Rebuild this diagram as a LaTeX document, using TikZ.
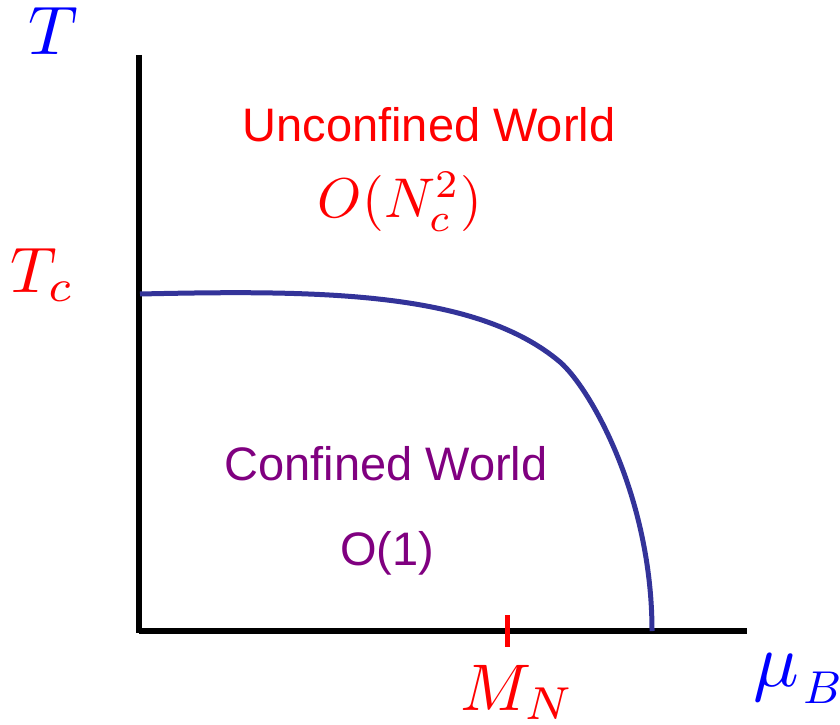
\RequirePackage{fix-cm}
\documentclass[tikz,border=0pt]{standalone}
\usepackage{amsmath}
\usepackage{fontspec}
\setsansfont{Liberation Sans}
\usepackage{tikz}
\usetikzlibrary{calc}
\definecolor{curveblue}{RGB}{51,51,153}
\definecolor{worldpurple}{RGB}{128,0,128}

\begin{document}
\begin{tikzpicture}[x=0.5pt,y=0.5pt,
  axis/.style={line width=3pt},
  world/.style={font=\fontsize{23.5}{28}\sffamily,inner sep=0pt,anchor=base},
  lbl/.style={inner sep=0pt,font=\fontsize{10}{12}\selectfont}]
\useasboundingbox (0,0) rectangle (840,724);

\draw[axis] (139,669) -- (139,91);
\draw[axis] (139,93) -- (747,93);

\draw[line width=2.5pt,red] (507,109) -- (507,77);

% phase boundary
\draw[line width=2.5pt,curveblue] (140,430) .. controls (320,434) and (476,433) .. (560,362)
  .. controls (590,336) and (652,228) .. (652,93);

\node[lbl,blue,anchor=base] (tlab) at (53,669) {\scalebox{3.44}{$T$}};
\node[lbl,red,anchor=base west] (tclab) at (10,432) {\scalebox{3.22}{$T_c$}};
\node[lbl,red,anchor=base west] (mnlab) at (460,14) {\scalebox{3.3}{$M_N$}};
\node[lbl,blue,anchor=base west] (mulab) at (753,38)
  {\scalebox{3.8}{$\mu$}\hspace{2pt}\raisebox{-8.5pt}{\scalebox{2.56}{\fontsize{9}{10}\selectfont$B$}}};

\node[world,red] (unconf) at (429,582) {Unconfined World};
\node[lbl,red,anchor=base] (ncsq) at (400,506) {\scalebox{2.8}{$O(N_c^2)$}};
\node[world,worldpurple] (conf) at (386,244) {Confined World};
\node[world,worldpurple] (one) at (387,159) {O(1)};
\end{tikzpicture}
\end{document}
